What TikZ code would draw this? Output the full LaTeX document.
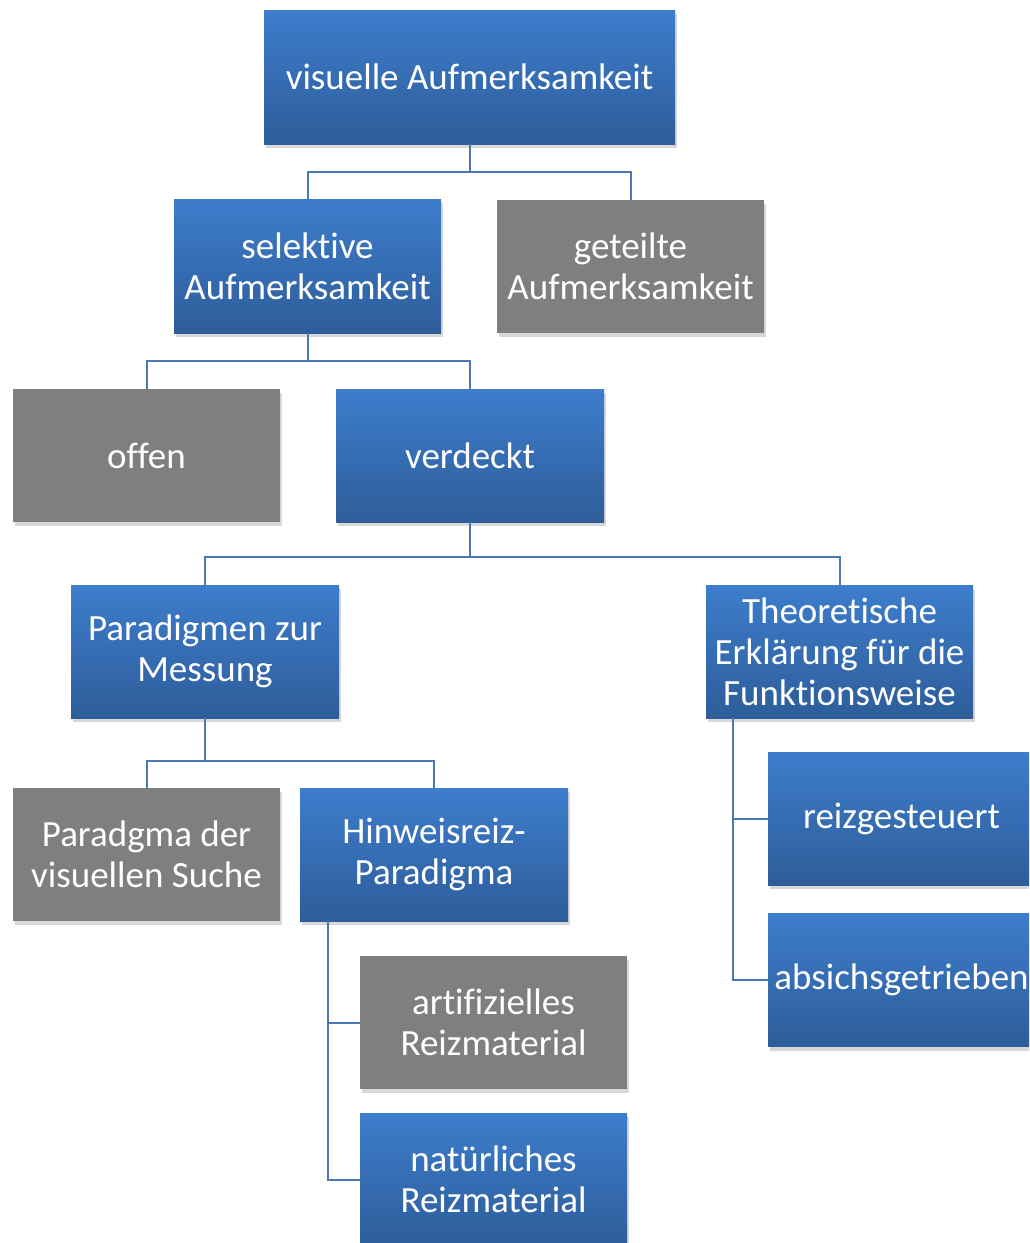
\documentclass[tikz,border=0pt]{standalone}
\usepackage{fontspec}
\setmainfont[Ligatures=NoCommon]{Carlito}
\usetikzlibrary{shadows}
\definecolor{blueT}{HTML}{3D7DCC}
\definecolor{blueB}{HTML}{2E5D9A}
\definecolor{grayF}{HTML}{7F7F7F}
\definecolor{lineC}{HTML}{4A78B4}
\tikzset{
  box/.style={rectangle, minimum width=267pt, minimum height=133pt, inner sep=0pt,
    align=center, text=white, font=\fontsize{37}{41}\selectfont,
    drop shadow={opacity=0.3, shadow xshift=2pt, shadow yshift=-4pt}},
  bluebox/.style={box, top color=blueT, bottom color=blueB},
  graybox/.style={box, fill=grayF},
  conn/.style={draw=lineC, line width=2pt}
}
\begin{document}
\begin{tikzpicture}[x=1pt,y=-1pt]
\clip (0,0) rectangle (1029,1243);
\fill[white] (0,0) rectangle (1029,1243);
\node[bluebox, minimum width=411pt, minimum height=134pt] (top) at (469.5,77) {visuelle Aufmerksamkeit};
\node[bluebox, minimum height=134pt] (sel) at (307.5,266) {selektive\\Aufmerksamkeit};
\node[graybox] (get) at (630.5,266.5) {geteilte\\Aufmerksamkeit};
\node[graybox] (offen) at (146.5,455.5) {offen};
\node[bluebox, minimum width=268pt] (verd) at (470,455.5) {verdeckt};
\node[bluebox, minimum width=268pt] (para) at (205,651.5) {Paradigmen zur\\Messung};
\node[bluebox] (theo) at (839.5,651.5) {Theoretische\\Erklärung für die\\Funktionsweise};
\node[graybox] (such) at (146.5,854.5) {Paradgma der\\visuellen Suche};
\node[bluebox, minimum width=268pt] (hinw) at (434,854.5) {Hinweisreiz-\\Paradigma};
\node[graybox] (art) at (493.5,1022.5) {artifizielles\\Reizmaterial};
\node[bluebox] (nat) at (493.5,1179.5) {natürliches\\Reizmaterial};
\node[bluebox] (reiz) at (901.5,818.5) {reizgesteuert};
\node[bluebox] (absi) at (901.5,980) {absichsgetrieben};
\draw[conn] (top.south) -- ++(0,28) -| (sel.north);
\draw[conn] (top.south) -- ++(0,28) -| (get.north);
\draw[conn] (sel.south) -- ++(0,28) -| (offen.north);
\draw[conn] (sel.south) -- ++(0,28) -| (verd.north);
\draw[conn] (verd.south) -- ++(0,35) -| (para.north);
\draw[conn] (verd.south) -- ++(0,35) -| (theo.north);
\draw[conn] (para.south) -- ++(0,43) -| (such.north);
\draw[conn] (para.south) -- ++(0,43) -| (hinw.north);
\draw[conn] ([xshift=28pt]hinw.south west) |- (art.west);
\draw[conn] ([xshift=28pt]hinw.south west) |- (nat.west);
\draw[conn] ([xshift=27pt]theo.south west) |- (reiz.west);
\draw[conn] ([xshift=27pt]theo.south west) |- (absi.west);
\end{tikzpicture}
\end{document}
